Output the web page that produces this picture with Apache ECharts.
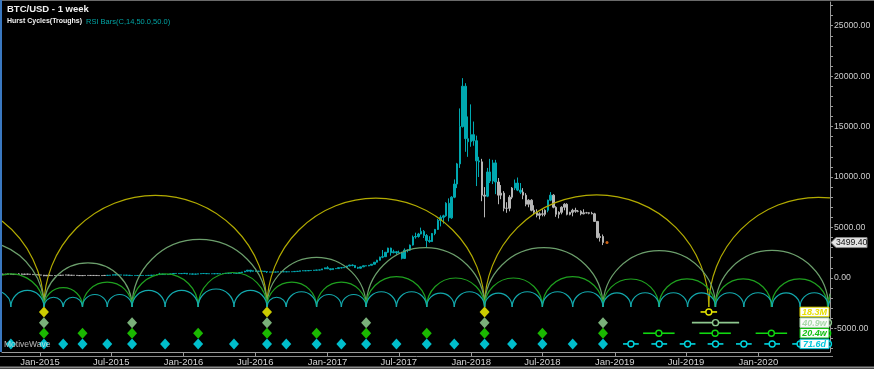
<!DOCTYPE html>
<html><head><meta charset="utf-8">
<script src="https://cdn.jsdelivr.net/npm/echarts@6/dist/echarts.min.js"></script>
<style>html,body{margin:0;padding:0;background:#000;}#c{width:874px;height:369px;}</style>
</head><body><div id="c"></div>
<script>
// ---------- DATA ----------
const firstWeek = '2014-09-28';          // weekly bars, one per week from this date
const firstOpen = 378;
const weekClose = [
325,365,390,355,330,342,390,350,375,368,350,318,315,285,
275,205,255,225, 228,235,243,260, 275,285,260,250,255, 235,222,230,240, 241,237,240,230,225,
233,245,250,270, 310,275,290,280, 264,260,230,230,236, 232,232,235,240, 245,265,285,325,
380,330,325,360,395, 435,440,420,430,
450,385,390,370,375, 400,435,430,410, 415,410,415,420, 420,430,450,455, 460,455,440,520,580,
665,760,665,700, 650,660,655,620, 590,570,580,575,605, 605,605,600,610, 615,640,650,700,
710,700,730,735,765, 775,790,890,1000,
900,820,920,920,1010, 1000,1050,1180,1270, 1230,1020,960,1090, 1200,1180,1250,1350,
1550,1750,2050,2100,2540, 2950,2500,2590,2500, 2500,1930,2750,2750,3250, 4050,4100,4350,4600,
4200,3700,3600,4400, 4800,5700,6000,6150,7400, 5950,8000,9300,11300, 15000,19000,13800,13500,
14200,13600,11600,11500,8200, 8100,10500,9600,11400, 9500,8200,8400,6900, 6900,8000,8900,9400,8700,
8500,8200,7300,7700, 6700,6500,6200,6350, 6300,6700,7700,8200,7000, 6300,6500,7000,7300,
6300,6500,6700,6600,6600, 6350,6450,6450,6400, 6350,5600,4000,4100,3499.4
];
const weekHigh = [
390,370,415,395,365,345,455,420,385,382,380,355,335,320,
300,285,260,310, 245,245,262,263, 285,300,290,272,260, 262,240,238,243, 248,244,243,242,232,
234,253,252,273, 315,315,293,297, 287,270,264,232,238, 245,235,239,241, 247,269,287,330,
495,388,340,372,402, 465,468,452,435,
457,453,412,405,380, 402,440,440,440, 420,418,420,425, 423,432,452,467, 467,462,457,530,585,
690,780,770,710, 705,680,675,660, 625,600,585,590,615, 612,612,612,612, 620,645,655,705,
740,740,745,750,770, 780,792,895,1005,
1150,910,925,935,1015, 1050,1060,1190,1290, 1330,1245,1100,1100, 1210,1210,1265,1365,
1560,1790,2100,2760,2560, 2990,2995,2790,2660, 2700,2580,2920,2800,3300, 4200,4480,4460,4980,
4740,4350,4130,4450, 4850,5850,6200,6260,7500, 7880,8100,9760,11400, 16800,19800,19300,16000,
17200,15500,14100,12000,11800, 9000,10900,11800,11700, 11700,9900,9200,8600, 7500,8200,9000,9750,9950,
9400,8900,8400,7800, 7800,7200,6800,6500, 6800,6800,7750,8500,8300, 7100,6600,7100,7400,
7400,6550,6850,6950,6730, 6700,6800,6540,6510, 6550,6450,5620,4420,4300
];
const weekLow = [
300,275,360,350,322,315,340,340,345,360,345,310,310,280,
262,170,200,220, 212,215,232,235, 255,270,255,240,240, 233,215,218,219, 232,233,233,228,220,
222,231,240,242, 256,268,272,278, 260,258,190,220,224, 229,228,228,234, 237,244,260,283,
310,300,312,318,355, 388,430,415,418,
420,370,350,365,365, 368,395,415,402, 404,406,408,412, 414,418,428,445, 445,448,436,438,505,
572,650,555,620, 610,645,650,615, 480,560,565,566,572, 598,599,593,597, 607,612,633,648,
690,690,695,725,728, 755,766,789,885,
880,750,815,890,915, 935,990,1045,1165, 1150,975,890,935, 1080,1170,1160,1240,
1340,1540,1720,1950,2080, 2460,2200,2430,2320, 2450,1830,1900,2530,2680, 3200,3880,3990,4320,
3950,2980,3480,3560, 4230,4750,5100,5380,6050, 5600,5850,7900,8900, 10900,14900,12500,12000,
13000,13100,9100,10000,7600, 6000,8000,9400,9300, 8300,7300,7800,6600, 6450,6600,7800,8700,8600,
8300,7800,7100,7000, 6600,6300,6000,5800, 6100,6100,6500,7600,6900, 6050,5900,6300,6700,
6200,6200,6100,6450,6500, 6200,6300,6390,6300, 6300,5550,3900,3600,3250
];
// weeks whose RSI(14) is above 50 (teal bars); all others grey
const rsiAboveRanges = [['2015-06-21','2018-01-21'],['2018-02-11','2018-03-04'],['2018-04-22','2018-05-06'],['2018-07-15','2018-07-22']];

// Hurst cycle troughs (found) and projected troughs
const troughsYellow     = ['2013-07-07','2015-01-11','2016-07-31','2018-02-04'];
const troughsLightGreen = ['2014-02-09','2015-01-11','2015-08-23','2016-07-31','2017-04-09','2018-02-04','2018-12-02'];
const troughsGreen      = ['2014-07-27','2015-01-11','2015-04-19','2015-08-23','2016-02-07','2016-07-31','2016-12-04','2017-04-09','2017-09-10','2018-02-04','2018-07-01','2018-12-02'];
const troughsCyan       = ['2014-07-27','2014-10-19','2015-01-11','2015-03-01','2015-04-19','2015-06-21','2015-08-23','2015-11-15','2016-02-07','2016-05-08','2016-07-31','2016-09-18','2016-12-04','2017-02-05','2017-04-09','2017-06-25','2017-09-10','2017-11-19','2018-02-04','2018-04-15','2018-07-01','2018-09-16','2018-12-02'];
const projYellow     = ['2019-08-28','2021-03-07'];
const projLightGreen = ['2019-09-14','2020-06-27','2021-04-09'];
const projGreen      = ['2019-04-23','2019-09-13','2020-02-03','2020-06-25','2020-11-15'];
const projCyan       = ['2019-02-11','2019-04-24','2019-07-05','2019-09-14','2019-11-25','2020-02-05','2020-04-16','2020-06-27','2020-09-07'];
const projSpreadDays = [21, 60, 40, 20];          // yellow, light green, green, cyan
const cycleLabels = ['18.3M','40.9w','20.4w','71.6d'];
const cycleRows = [-3380, -4440, -5490, -6550];  // value level of each marker row
const ARC_BASE = -2880;

const xTickLabels = ['2015-01-01','2015-07-01','2016-01-01','2016-07-01','2017-01-01','2017-07-01','2018-01-01','2018-07-01','2019-01-01','2019-07-01','2020-01-01'];
const yTickLabels = [-5000,0,5000,10000,15000,20000,25000];

// ---------- BUILD ----------
const DAY = 86400000;
const ms = s => Date.parse(s + 'T00:00:00Z');
const MON = ['Jan','Feb','Mar','Apr','May','Jun','Jul','Aug','Sep','Oct','Nov','Dec'];
const X_MIN = ms('2014-09-26') + 0.42 * DAY;
const X_MAX = ms('2020-07-01');
const FONT = '"Liberation Sans", Arial, sans-serif';
const TEAL = '#00a8b0', GREY = '#b6b6b6';
const arcColors = ['#b2ab00', '#6c9f6c', '#1fa01f', '#13a9ad'];
const dotColors = ['#ffff00', '#98dc98', '#22e600', '#00eeff'];
const projColors = ['#e6e600', '#8fc88f', '#10d810', '#00d6e0'];
const labelColors = ['#e8e000', '#a8d8a8', '#10c010', '#00c8dc'];

const t0 = ms(firstWeek);
const ranges = rsiAboveRanges.map(r => [ms(r[0]), ms(r[1])]);
const isAbove = t => ranges.some(r => t >= r[0] && t <= r[1]);
const candleData = weekClose.map((c, i) => {
  const t = t0 + i * 7 * DAY;
  const o = i === 0 ? firstOpen : weekClose[i - 1];
  const col = isAbove(t) ? TEAL : GREY;
  return { value: [t, o, c, weekLow[i], weekHigh[i]],
    itemStyle: { color: col, color0: col, borderColor: col, borderColor0: col, borderColorDoji: col } };
});
const lastTime = t0 + (weekClose.length - 1) * 7 * DAY;
const lastClose = weekClose[weekClose.length - 1];

function arcSeries(tr, pr, color) {
  const pts = tr.concat(pr).map(ms);
  const data = [];
  for (let i = 0; i < pts.length - 1; i++) data.push([pts[i], pts[i + 1], ARC_BASE]);
  return { type: 'custom', silent: true, z: 4, data, encode: { x: [0, 1], y: 2 },
    renderItem(params, api) {
      const p1 = api.coord([api.value(0), api.value(2)]);
      const p2 = api.coord([api.value(1), api.value(2)]);
      const cs = params.coordSys;
      const L = cs.x, R = cs.x + cs.width;
      const cx = (p1[0] + p2[0]) / 2, r = (p2[0] - p1[0]) / 2, cy = p1[1];
      if (cx + r < L || cx - r > R) return null;
      let sa = Math.PI, ea = 2 * Math.PI;
      if (cx - r < L) sa = 2 * Math.PI - Math.acos((L - cx) / r);
      if (cx + r > R) ea = 2 * Math.PI - Math.acos((R - cx) / r);
      return { type: 'arc', shape: { cx, cy, r, startAngle: sa, endAngle: ea, clockwise: true },
        style: { stroke: color, fill: null, lineWidth: 1.2 } };
    } };
}
function dotSeries(tr, row, color) {
  return { type: 'scatter', silent: true, z: 6, symbol: 'diamond', symbolSize: [10, 11],
    itemStyle: { color }, data: tr.filter(d => ms(d) >= t0).map(d => [ms(d), row]) };
}
function projSeries(pr, row, spread, color) {
  return { type: 'custom', silent: true, z: 7, encode: { x: 0, y: 1 },
    data: pr.map(d => [ms(d), row, spread]),
    renderItem(params, api) {
      const t = api.value(0), v = api.value(1), sp = api.value(2) * DAY;
      const c = api.coord([t, v]), a = api.coord([t - sp, v]), b = api.coord([t + sp, v]);
      const cs = params.coordSys; const L = cs.x, R = cs.x + cs.width;
      if (a[0] > R) return null;
      const x1 = Math.max(L, a[0]), x2 = Math.min(R, b[0]);
      const ch = [{ type: 'line', shape: { x1, y1: c[1], x2, y2: c[1] }, style: { stroke: color, lineWidth: 1.6 } }];
      if (c[0] <= R) ch.push({ type: 'circle', shape: { cx: c[0], cy: c[1], r: 3 }, style: { fill: '#000', stroke: color, lineWidth: 1.4 } });
      return { type: 'group', children: ch };
    } };
}

const levels = [[troughsYellow, projYellow], [troughsLightGreen, projLightGreen], [troughsGreen, projGreen], [troughsCyan, projCyan]];
const series = [{
  type: 'candlestick', z: 3, silent: true, barWidth: 2, encode: { x: 0, y: [1, 2, 3, 4] },
  data: candleData
}];
levels.forEach((lv, i) => series.push(arcSeries(lv[0], lv[1], arcColors[i])));
levels.forEach((lv, i) => series.push(dotSeries(lv[0], cycleRows[i], dotColors[i])));
levels.forEach((lv, i) => series.push(projSeries(lv[1], cycleRows[i], projSpreadDays[i], projColors[i])));
series.push({ type: 'custom', silent: true, z: 9, encode: { x: 0, y: 1 },
  data: cycleLabels.map((s, i) => [X_MAX, cycleRows[i], i]),
  renderItem(params, api) {
    const i = api.value(2); const p = api.coord([api.value(0), api.value(1)]);
    const cs = params.coordSys; const right = cs.x + cs.width - 1; const w = 29, h = 9.5;
    return { type: 'group', children: [
      { type: 'rect', shape: { x: right - w, y: p[1] - h / 2, width: w, height: h }, style: { fill: '#fbfbfb', stroke: labelColors[i], lineWidth: 1 } },
      { type: 'text', x: right - w / 2, y: p[1] + 0.5, style: { text: cycleLabels[i], fill: labelColors[i], font: 'italic bold 9px ' + FONT, align: 'center', verticalAlign: 'middle' } }
    ] };
  } });
series.push({ type: 'scatter', silent: true, z: 8, symbol: 'circle', symbolSize: 3, symbolOffset: [4, 0],
  itemStyle: { color: '#ff7a1a' }, data: [[lastTime, lastClose]] });
series.push({ type: 'custom', silent: true, z: 10, clip: false, encode: { x: 0, y: 1 },
  data: [[lastTime, lastClose]],
  renderItem(params, api) {
    const p = api.coord([api.value(0), api.value(1)]); const cs = params.coordSys;
    const x0 = cs.x + cs.width, y = p[1];
    return { type: 'group', children: [
      { type: 'polygon', shape: { points: [[x0 + 1, y], [x0 + 6, y - 5], [x0 + 37, y - 5], [x0 + 37, y + 5], [x0 + 6, y + 5]] }, style: { fill: '#e4e4e4', stroke: '#8a8a8a', lineWidth: 1 } },
      { type: 'text', x: x0 + 6, y: y + 0.5, style: { text: api.value(1).toFixed(2), fill: '#111', font: '8.7px ' + FONT, verticalAlign: 'middle' } }
    ] };
  } });

const yMinor = []; for (let v = -7000; v <= 27000; v += 1000) yMinor.push(v);

const chart = echarts.init(document.getElementById('c'), null, { renderer: 'canvas' });
chart.setOption({
  backgroundColor: '#000',
  animation: false,
  grid: { left: 2, right: 44, top: 2, bottom: 17, containLabel: false, outerBoundsMode: 'none' },
  xAxis: { type: 'value', min: X_MIN, max: X_MAX, scale: true, splitLine: { show: false },
    axisLine: { show: true, onZero: false, lineStyle: { color: '#9a9a9a', width: 1 } },
    axisTick: { show: true, customValues: xTickLabels.map(ms), length: 4, lineStyle: { color: '#9a9a9a' } },
    axisLabel: { customValues: xTickLabels.map(ms), color: '#d4d4d4', fontSize: 9.5, fontFamily: FONT, margin: 5,
      formatter: v => { const d = new Date(v); return MON[d.getUTCMonth()] + '-' + d.getUTCFullYear(); } } },
  yAxis: { type: 'value', position: 'right', min: -7350, max: 27350, splitLine: { show: false },
    axisLine: { show: true, onZero: false, lineStyle: { color: '#9a9a9a', width: 1 } },
    axisTick: { show: true, customValues: yMinor, length: 3, lineStyle: { color: '#9a9a9a' } },
    axisLabel: { customValues: yTickLabels, color: '#cdcdcd', fontSize: 8.7, fontFamily: FONT, margin: 4, formatter: v => v.toFixed(2) } },
  graphic: [
    { type: 'line', z: 50, shape: { x1: 0, y1: 0.5, x2: 874, y2: 0.5 }, style: { stroke: '#6a6a6a', lineWidth: 1 } },
    { type: 'line', z: 50, shape: { x1: 1, y1: 0, x2: 1, y2: 352 }, style: { stroke: '#3a78c0', lineWidth: 2 } },
    { type: 'line', z: 50, shape: { x1: 0, y1: 356.5, x2: 833, y2: 356.5 }, style: { stroke: '#8a8a8a', lineWidth: 1 } },
    { type: 'line', z: 50, shape: { x1: 0, y1: 367.5, x2: 874, y2: 367.5 }, style: { stroke: '#8a8a8a', lineWidth: 2 } },
    { type: 'text', z: 50, left: 7, top: 4, style: { text: 'BTC/USD - 1 week', fill: '#f0f0f0', font: 'bold 9.5px ' + FONT } },
    { type: 'text', z: 50, left: 7, top: 18, style: { text: 'Hurst Cycles(Troughs)', fill: '#f0f0f0', font: 'bold 7px ' + FONT } },
    { type: 'text', z: 50, left: 86, top: 18, style: { text: 'RSI Bars(C,14,50.0,50.0)', fill: '#00a3a3', font: '7.5px ' + FONT } },
    { type: 'text', z: 50, left: 4, top: 340, style: { text: 'MotiveWave', fill: 'rgba(225,225,225,0.8)', font: '8.5px ' + FONT } }
  ],
  series
});
</script>
</body></html>
